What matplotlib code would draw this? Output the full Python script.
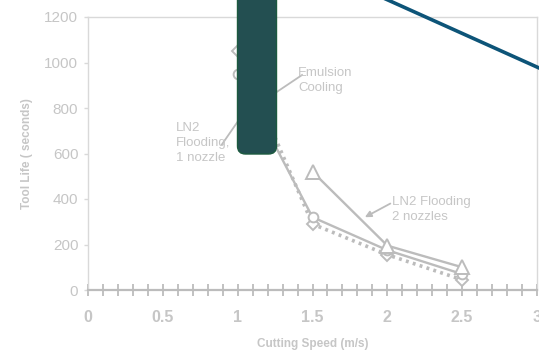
import matplotlib
matplotlib.use("Agg")
import matplotlib.pyplot as plt
from matplotlib.patches import FancyBboxPatch
from matplotlib.lines import Line2D
from matplotlib.transforms import Affine2D

plt.rcParams['font.family'] = ['Liberation Sans', 'DejaVu Sans']

# Tool life (s) against cutting speed (m/s)
speed_2noz = [1.5, 2.0, 2.5]
life_2noz = [520, 195, 100]          # LN2 flooding, 2 nozzles (triangles)
speed_1noz = [1.0, 1.5, 2.0, 2.5]
life_1noz = [950, 320, 175, 70]      # LN2 flooding, 1 nozzle (circles)
speed_emul = [1.0, 1.5, 2.0, 2.5]
life_emul = [1050, 290, 155, 45]     # emulsion cooling (diamonds, dotted)

x_ticks = [0, 0.5, 1, 1.5, 2, 2.5, 3]
x_ticklabels = ['0', '0.5', '1', '1.5', '2', '2.5', '3']
y_ticks = [0, 200, 400, 600, 800, 1000, 1200]

TXT = '#c6c6c6'
LINE = '#bcbcbc'
FRAME = '#d9d9d9'

W, H = 539, 354
fig = plt.figure(figsize=(W / 100, H / 100), dpi=100)
ax = fig.add_axes([88 / W, (H - 290) / H, (537 - 88) / W, (290 - 17) / H])

ax.plot(speed_emul, life_emul, color=LINE, lw=2.6, ls=(0, (0.8, 1.2)),
        marker='D', ms=6.5, mfc='white', mec=LINE, mew=1.4, zorder=3)
ax.plot(speed_1noz, life_1noz, color=LINE, lw=1.7,
        marker='o', ms=7, mfc='white', mec=LINE, mew=1.4, zorder=3)
ax.plot(speed_2noz, life_2noz, color=LINE, lw=1.7,
        marker='^', ms=10, mfc='white', mec=LINE, mew=1.4, zorder=3)

ax.set_xlim(0, 3)
ax.set_ylim(0, 1200)
ax.set_xticks(x_ticks)
ax.set_xticklabels(x_ticklabels, fontweight='bold')
ax.set_xticks([i / 10 for i in range(31)], minor=True)
ax.set_yticks(y_ticks)

ax.tick_params(axis='x', which='both', direction='inout', length=9, width=1.3,
               color=LINE, labelcolor=TXT, labelsize=11.5, pad=10)
ax.tick_params(axis='y', direction='out', length=3, width=1, color=FRAME,
               labelcolor=TXT, labelsize=11, pad=4)

for side in ('top', 'right', 'left'):
    ax.spines[side].set_color(FRAME)
    ax.spines[side].set_linewidth(1.0)
ax.spines['bottom'].set_color(LINE)
ax.spines['bottom'].set_linewidth(1.6)

ax.set_xlabel('Cutting Speed (m/s)', color=TXT, fontsize=8.5,
              fontweight='bold', labelpad=9)
ax.set_ylabel('Tool Life ( seconds)', color=TXT, fontsize=8.5,
              fontweight='bold', labelpad=8)

# Series annotations
ax.text(1.405, 980, 'Emulsion\nCooling', color=TXT, fontsize=9.5,
        va='top', ha='left', linespacing=1.35)
ax.plot([1.43, 1.26], [945, 870], color=LINE, lw=1.3)

ax.text(0.59, 740, 'LN2\nFlooding,\n1 nozzle', color=TXT, fontsize=9.5,
        va='top', ha='left', linespacing=1.35)
ax.plot([0.895, 1.0], [640, 740], color=LINE, lw=1.3)

ax.text(2.03, 415, 'LN2 Flooding\n2 nozzles', color=TXT, fontsize=9.5,
        va='top', ha='left', linespacing=1.35)
ax.annotate('', xy=(1.85, 320), xytext=(2.02, 380),
            arrowprops=dict(arrowstyle='-|>', color=LINE, lw=1.3,
                            mutation_scale=9, shrinkA=0, shrinkB=0))

# Overlay marks drawn in pixel units (origin at bottom-left)
px = Affine2D().scale(1 / 100) + fig.dpi_scale_trans
bar = FancyBboxPatch((237.5, H - 154), 39, 220,
                     boxstyle='round,pad=0,rounding_size=8',
                     facecolor='#234f51', edgecolor='#1c5a3f', lw=1.0,
                     transform=px, zorder=10)
fig.patches.append(bar)
fig.lines.append(Line2D([385, 548], [H + 1.3, H - 72], color='#0d5478',
                        lw=2.6, transform=px, zorder=10))

fig.savefig('out.png', dpi=100, facecolor='white')
